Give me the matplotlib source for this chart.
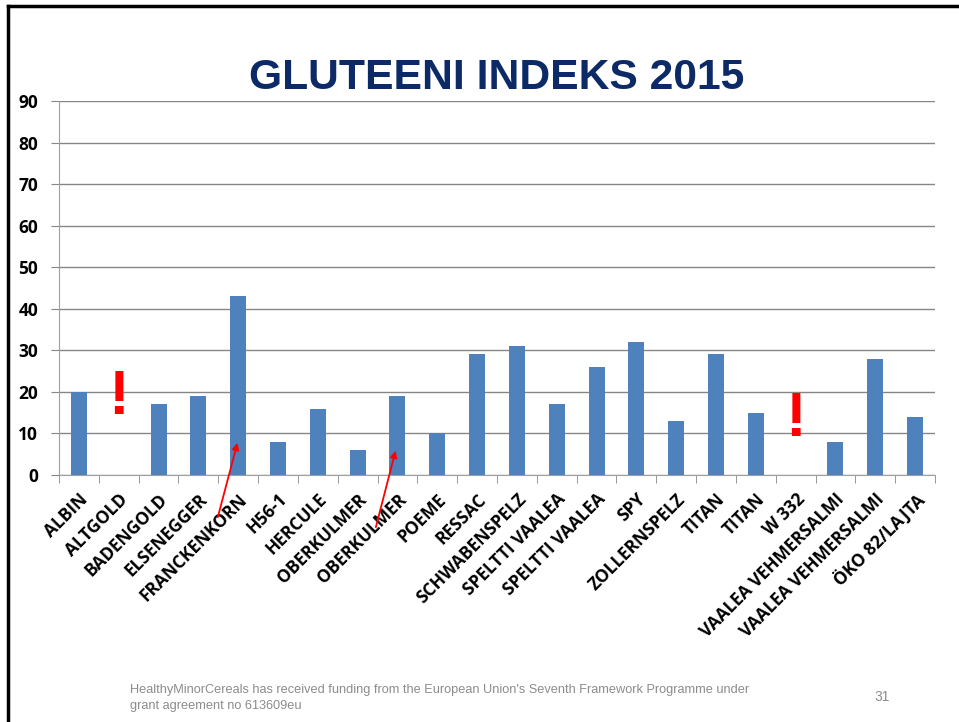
import matplotlib
matplotlib.use("Agg")
from matplotlib import pyplot as plt
import numpy as np

names = ["ALBIN", "ALTGOLD", "BADENGOLD", "ELSENEGGER", "FRANCKENKORN", "H56-1",
         "HERCULE", "OBERKULMER", "OBERKULMER", "POEME", "RESSAC", "SCHWABENSPELZ",
         "SPELTTI VAALEA", "SPELTTI VAALEA", "SPY", "ZOLLERNSPELZ", "TITAN", "TITAN",
         "W 332", "VAALEA VEHMERSALMI", "VAALEA VEHMERSALMI", "ÖKO 82/LAJTA"]
values = [20, 0, 17, 19, 43, 8, 16, 6, 19, 10, 29, 31, 17, 26, 32, 13, 29, 15, 0, 8, 28, 14]
yticks = [0, 10, 20, 30, 40, 50, 60, 70, 80, 90]
missing = [1, 18]
mark_base = [11.5, 6.3]

fig = plt.figure(figsize=(9.59, 7.22), dpi=100)
ax = fig.add_axes([59/959, 1 - 475/722, 876/959, 374/722])

x = np.arange(len(names))
ax.bar(x, values, width=0.4, color="#4f81bd", zorder=3)
ax.set_xlim(-0.5, len(names) - 0.5)
ax.set_ylim(0, 90)
ax.set_yticks(yticks)
ax.set_yticklabels([str(t) for t in yticks], fontsize=12.5, fontweight="bold", family="Open Sans")
ax.yaxis.grid(True, color="#868686", linewidth=1, zorder=0)
ax.set_xticks(x)
ax.set_xticklabels(names, rotation=45, ha="right", rotation_mode="anchor",
                   fontsize=12.5, fontweight="bold", family="Open Sans")
ax.tick_params(axis="x", length=0, pad=11)
ax.set_xticks(np.arange(-0.5, len(names)), minor=True)
ax.tick_params(axis="x", which="minor", length=6, color="#868686")
ax.tick_params(axis="y", length=6, color="#868686", pad=9)
for s in ["top", "right"]:
    ax.spines[s].set_visible(False)
for s in ["left", "bottom"]:
    ax.spines[s].set_color("#a0a0a0")

# red marks for missing values
for i, b in zip(missing, mark_base):
    ax.text(i, b, "!", color="red", fontsize=45, fontweight="bold",
            ha="center", va="bottom", family="Liberation Sans", zorder=4)

ax.annotate("", xy=(4.0, 8.4), xytext=(3.47, -10.8),
            arrowprops=dict(arrowstyle="-|>", color="red", lw=1.3, mutation_scale=10),
            annotation_clip=False)
ax.annotate("", xy=(7.97, 6.5), xytext=(7.44, -13.2),
            arrowprops=dict(arrowstyle="-|>", color="red", lw=1.3, mutation_scale=10),
            annotation_clip=False)

fig.text(497/959, 1 - 78/722, "GLUTEENI INDEKS 2015", color="#0c2a66", fontsize=30.7,
         fontweight="bold", family="Liberation Sans", ha="center", va="center")

fig.text(130/959, 1 - 698/722,
         "HealthyMinorCereals has received funding from the European Union's Seventh Framework Programme under\ngrant agreement no 613609eu",
         color="#8c8c8c", fontsize=9.2, family="Liberation Sans", ha="left", va="center",
         linespacing=1.35)
fig.text(882/959, 1 - 697/722, "31", color="#8c8c8c", fontsize=10, family="Liberation Sans",
         ha="center", va="center")

# slide frame
fig.add_artist(plt.Line2D([8/959, 8/959], [0, 1 - 6/722], color="black", lw=2.5,
                          transform=fig.transFigure))
fig.add_artist(plt.Line2D([8/959, 1], [1 - 6/722, 1 - 6/722], color="black", lw=2.5,
                          transform=fig.transFigure))

plt.savefig("out.png", dpi=100)
